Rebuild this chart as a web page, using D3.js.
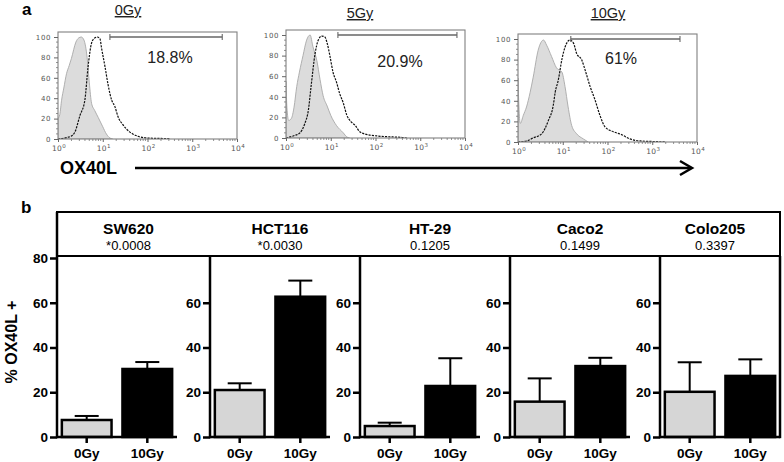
<!DOCTYPE html>
<html><head><meta charset="utf-8">
<script src="https://cdn.jsdelivr.net/npm/d3@7"></script>
<style>body{margin:0;background:#fff}svg{display:block}</style>
</head><body>
<svg id="c" width="784" height="462"></svg>
<script>
// ---------- Panel a: flow histograms (x in log10 units, y in % of max) ----------
const doses = ["0Gy", "5Gy", "10Gy"];
const gateLabels = ["18.8%", "20.9%", "61%"];
const gateStart = [1.16, 1.16, 1.18];
const gateEnd = [3.67, 3.82, 3.62];
const histYTicks = [0, 20, 40, 60, 80, 100];
const decades = [0, 1, 2, 3, 4];

const iso0 = [[0,20],[0.04,24],[0.08,38],[0.13,50],[0.19,64],[0.25,72],[0.3,79],[0.4,95],[0.46,99],[0.52,100],[0.58,97],[0.65,80],[0.7,55],[0.75,35],[0.82,28],[0.9,21],[1.0,12],[1.08,5],[1.16,1],[1.22,0]];
const ox0 = [[0,0],[0.2,1.5],[0.3,3],[0.38,7],[0.49,23],[0.6,38],[0.67,70],[0.75,94],[0.82,99],[0.88,100],[0.94,98],[0.97,90],[1.05,71],[1.12,53],[1.2,38],[1.27,32],[1.34,22],[1.45,14],[1.6,7],[1.67,5],[1.8,2.5],[1.98,1],[2.2,0.6],[2.43,0.4],[2.5,0]];
const iso5 = [[0,55],[0.02,30],[0.06,17],[0.12,19],[0.18,30],[0.24,50],[0.3,64],[0.38,80],[0.46,95],[0.54,100],[0.6,89],[0.69,75],[0.76,57],[0.83,41],[0.92,31],[1.0,22],[1.13,12],[1.28,5],[1.36,1],[1.42,0]];
const ox5 = [[0,0],[0.16,2],[0.31,5],[0.42,14],[0.5,27],[0.56,50],[0.65,82],[0.72,95],[0.8,99],[0.87,98],[0.92,92],[0.98,80],[1.05,64],[1.13,54],[1.2,43],[1.28,34],[1.36,22],[1.45,16],[1.55,12],[1.65,6],[1.8,3.5],[2.03,2],[2.39,1],[2.6,0.5],[2.7,0]];
const iso10 = [[0,62],[0.02,35],[0.05,18],[0.12,26],[0.19,34],[0.27,48],[0.34,63],[0.45,89],[0.57,99],[0.64,94],[0.75,83],[0.86,72],[0.98,68],[1.05,54],[1.12,34],[1.2,16],[1.31,8],[1.46,3],[1.57,0]];
const ox10 = [[0,0],[0.19,1],[0.34,4],[0.53,8],[0.68,21],[0.79,36],[0.83,48],[0.9,60],[0.98,80],[1.05,92],[1.16,99],[1.24,96],[1.31,86],[1.42,80],[1.52,67],[1.61,54],[1.72,41],[1.83,26],[1.94,15],[2.13,10],[2.32,7],[2.5,3],[2.73,1],[3.0,0.5],[3.3,0]];
const isoCurves = [iso0, iso5, iso10];
const oxCurves = [ox0, ox5, ox10];

// ---------- Panel b: bar charts ----------
const cellLines = ["SW620", "HCT116", "HT-29", "Caco2", "Colo205"];
const pValues = ["*0.0008", "*0.0030", "0.1205", "0.1499", "0.3397"];
const groups = ["0Gy", "10Gy"];
const mean0Gy = [7.6, 21.0, 4.9, 15.8, 20.2];
const mean10Gy = [30.4, 62.7, 22.8, 31.7, 27.3];
const sem0Gy = [1.8, 3.0, 1.5, 10.4, 13.2];
const sem10Gy = [3.1, 7.2, 12.4, 3.7, 7.4];
const yTicksFirst = [0, 20, 40, 60, 80];
const yTicksOther = [0, 20, 40, 60];

const F = "'Liberation Sans', Arial, Helvetica, sans-serif";
const svg = d3.select("#c");

// ===== Panel a =====
svg.append("text").attr("x", 22).attr("y", 15).attr("font-family", F)
  .attr("font-weight", "bold").attr("font-size", 17).text("a");

const histLayout = [
  {x0: 58,  y100: 37, y0: 139, tx: 128, ty: 15, px: 170, py: 63},
  {x0: 286, y100: 35, y0: 138, tx: 360, ty: 18, px: 400, py: 67},
  {x0: 518, y100: 39, y0: 142, tx: 608, ty: 18, px: 621, py: 64}
];
const histW = 179;
const defs = svg.append("defs");

histLayout.forEach((L, i) => {
  const x = d3.scaleLinear().domain([0, 4]).range([L.x0, L.x0 + histW]);
  const y = d3.scaleLinear().domain([0, 100]).range([L.y0, L.y100]);
  const top = L.y100 - 5;
  const g = svg.append("g");
  defs.append("clipPath").attr("id", "clip" + i).append("rect")
    .attr("x", L.x0).attr("y", top).attr("width", histW).attr("height", L.y0 - top);
  const cg = g.append("g").attr("clip-path", `url(#clip${i})`);
  cg.append("path").datum(isoCurves[i])
    .attr("d", d3.area().x(d => x(d[0])).y0(y(0)).y1(d => y(d[1])).curve(d3.curveMonotoneX))
    .attr("fill", "#dcdcdc").attr("stroke", "#a8a8a8").attr("stroke-width", 0.9);
  cg.append("path").datum(oxCurves[i])
    .attr("d", d3.line().x(d => x(d[0])).y(d => y(d[1])).curve(d3.curveMonotoneX))
    .attr("fill", "none").attr("stroke", "#111").attr("stroke-width", 1.2)
    .attr("stroke-dasharray", "2.2,1.1");
  // box
  g.append("rect").attr("x", L.x0).attr("y", top).attr("width", histW).attr("height", L.y0 - top)
    .attr("fill", "none").attr("stroke", "#808080").attr("stroke-width", 1.1);
  // y axis
  const ya = g.append("g").attr("transform", `translate(${L.x0},0)`)
    .call(d3.axisLeft(y).tickValues(histYTicks).tickSize(4).tickPadding(3).tickSizeOuter(0));
  ya.select(".domain").remove();
  ya.selectAll("line").attr("stroke", "#666");
  ya.selectAll("text").attr("font-family", "'DejaVu Sans', sans-serif").attr("font-size", 7)
    .attr("fill", "#555").attr("letter-spacing", 0.6);
  g.append("g").selectAll("line").data(d3.range(0, 101, 5).filter(v => v % 20 !== 0))
    .join("line").attr("x1", L.x0 - 2).attr("x2", L.x0).attr("y1", d => y(d)).attr("y2", d => y(d))
    .attr("stroke", "#777").attr("stroke-width", 0.8);
  // x axis (log decades)
  const xa = g.append("g").attr("transform", `translate(0,${L.y0})`)
    .call(d3.axisBottom(x).tickValues(decades).tickSize(3).tickFormat("").tickSizeOuter(0));
  xa.select(".domain").remove();
  xa.selectAll("line").attr("stroke", "#666");
  const minor = [];
  for (let d = 0; d < 4; d++) for (let k = 2; k <= 9; k++) minor.push(d + Math.log10(k));
  g.append("g").selectAll("line").data(minor).join("line")
    .attr("x1", d => x(d)).attr("x2", d => x(d)).attr("y1", L.y0).attr("y2", L.y0 + 2)
    .attr("stroke", "#777").attr("stroke-width", 0.8);
  const lab = g.append("g").selectAll("text").data(decades).join("text")
    .attr("x", d => x(d) + 1).attr("y", L.y0 + 12).attr("text-anchor", "middle")
    .attr("font-family", "'DejaVu Sans', sans-serif").attr("font-size", 7.5).attr("fill", "#555")
    .attr("letter-spacing", 0.4);
  lab.append("tspan").text("10");
  lab.append("tspan").attr("dy", -3).attr("font-size", 5.5).text(d => d);
  // gate
  const gy = L.y100;
  const gx1 = x(gateStart[i]), gx2 = x(gateEnd[i]);
  g.append("line").attr("x1", gx1).attr("x2", gx2).attr("y1", gy).attr("y2", gy)
    .attr("stroke", "#666").attr("stroke-width", 1.3);
  [gx1, gx2].forEach(v => g.append("line").attr("x1", v).attr("x2", v).attr("y1", gy - 3).attr("y2", gy + 3)
    .attr("stroke", "#666").attr("stroke-width", 1.1));
  g.append("text").attr("x", L.px).attr("y", L.py).attr("text-anchor", "middle")
    .attr("font-family", F).attr("font-size", 16).attr("fill", "#222").text(gateLabels[i]);
  g.append("text").attr("x", L.tx).attr("y", L.ty).attr("text-anchor", "middle")
    .attr("font-family", F).attr("font-size", 14.5).attr("fill", "#222")
    .attr("text-decoration", "underline").text(doses[i]);
});

svg.append("text").attr("x", 60).attr("y", 174).attr("font-family", F)
  .attr("font-weight", "bold").attr("font-size", 18).text("OX40L");
svg.append("line").attr("x1", 135).attr("x2", 691).attr("y1", 168).attr("y2", 168)
  .attr("stroke", "#000").attr("stroke-width", 2.5);
svg.append("path").attr("d", "M680,161 L692,168 L680,175").attr("fill", "none")
  .attr("stroke", "#000").attr("stroke-width", 2.5);

// ===== Panel b =====
svg.append("text").attr("x", 21).attr("y", 213).attr("font-family", F)
  .attr("font-weight", "bold").attr("font-size", 17).text("b");

const panelX = [57, 210, 360, 510, 660];
const panelW = 120;
const headerTop = 212, headerBot = 256, rightEdge = 780;
const yB = d3.scaleLinear().domain([0, 80]).range([437, 258]);

svg.append("rect").attr("x", 57).attr("y", headerTop).attr("width", rightEdge - 57)
  .attr("height", headerBot - headerTop).attr("fill", "none").attr("stroke", "#000").attr("stroke-width", 2);

svg.append("text").attr("transform", "translate(17,342) rotate(-90)").attr("text-anchor", "middle")
  .attr("font-family", F).attr("font-weight", "bold").attr("font-size", 16).text("% OX40L +");

cellLines.forEach((name, i) => {
  const X = panelX[i];
  const next = i < 4 ? panelX[i + 1] : rightEdge;
  const mid = (X + next) / 2 - 5;
  svg.append("text").attr("x", mid).attr("y", 234).attr("text-anchor", "middle")
    .attr("font-family", F).attr("font-weight", "bold").attr("font-size", 15.5).text(name);
  svg.append("text").attr("x", mid).attr("y", 250).attr("text-anchor", "middle")
    .attr("font-family", F).attr("font-size", 13).text(pValues[i]);

  const xb = d3.scaleBand().domain(groups).range([X, X + panelW]).paddingInner(0.18).paddingOuter(0.08);
  const g = svg.append("g");
  groups.forEach((grp, j) => {
    const v = j === 0 ? mean0Gy[i] : mean10Gy[i];
    const e = j === 0 ? sem0Gy[i] : sem10Gy[i];
    const cx = xb(grp) + xb.bandwidth() / 2;
    g.append("line").attr("x1", cx).attr("x2", cx).attr("y1", yB(v)).attr("y2", yB(v + e))
      .attr("stroke", "#000").attr("stroke-width", 2);
    g.append("line").attr("x1", cx - 12).attr("x2", cx + 12).attr("y1", yB(v + e)).attr("y2", yB(v + e))
      .attr("stroke", "#000").attr("stroke-width", 2);
    g.append("rect").attr("x", xb(grp)).attr("y", yB(v)).attr("width", xb.bandwidth())
      .attr("height", yB(0) - yB(v)).attr("fill", j === 0 ? "#d6d6d6" : "#000")
      .attr("stroke", "#000").attr("stroke-width", 2.5);
  });
  // y axis
  const ya = g.append("g").attr("transform", `translate(${X},0)`)
    .call(d3.axisLeft(yB).tickValues(i === 0 ? yTicksFirst : yTicksOther).tickSize(7).tickPadding(2).tickSizeOuter(0));
  ya.select(".domain").remove();
  ya.selectAll("line").attr("stroke", "#000").attr("stroke-width", 2.5);
  ya.selectAll("text").attr("font-family", F).attr("font-weight", "bold").attr("font-size", 13.5).attr("fill", "#000");
  g.append("line").attr("x1", X).attr("x2", X).attr("y1", i === 0 ? headerTop : headerBot).attr("y2", yB(0) + 1.2)
    .attr("stroke", "#000").attr("stroke-width", 2.5);
  // x axis
  const xa = g.append("g").attr("transform", `translate(0,${yB(0)})`)
    .call(d3.axisBottom(xb).tickSize(6).tickPadding(5).tickSizeOuter(0));
  xa.select(".domain").remove();
  xa.selectAll("line").attr("stroke", "#000").attr("stroke-width", 2.5);
  xa.selectAll("text").attr("font-family", F).attr("font-weight", "bold").attr("font-size", 13.5).attr("fill", "#000");
  g.append("line").attr("x1", X).attr("x2", Math.min(X + panelW, rightEdge)).attr("y1", yB(0)).attr("y2", yB(0))
    .attr("stroke", "#000").attr("stroke-width", 2.5);
});
svg.append("line").attr("x1", rightEdge).attr("x2", rightEdge).attr("y1", headerBot).attr("y2", yB(0) + 1.2)
  .attr("stroke", "#000").attr("stroke-width", 2.5);
</script>
</body></html>
